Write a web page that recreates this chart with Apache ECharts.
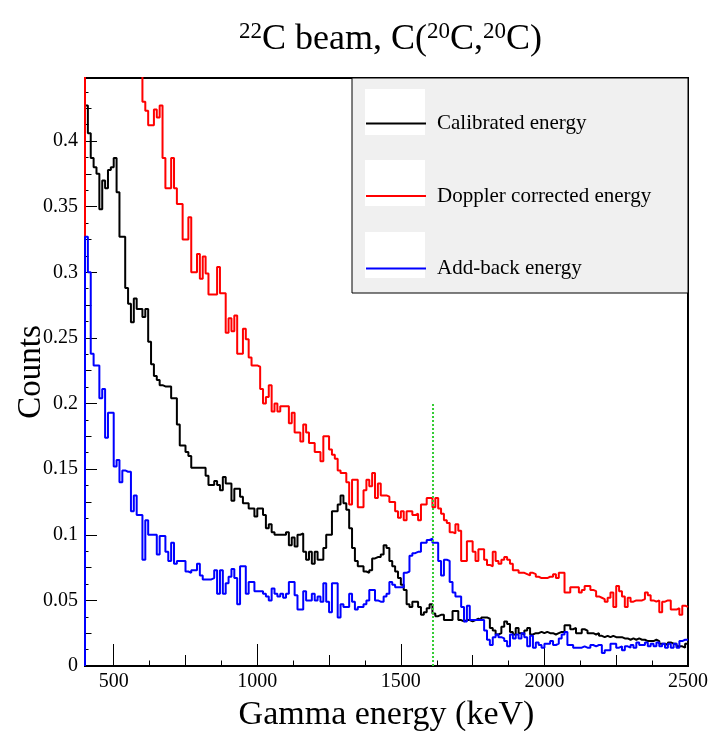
<!DOCTYPE html>
<html>
<head>
<meta charset="utf-8">
<script src="https://cdn.jsdelivr.net/npm/echarts@6/dist/echarts.min.js"></script>
<style>
  html, body { margin: 0; padding: 0; background: #fff; }
  #chart-container { width: 710px; height: 731px; }
</style>
</head>
<body>
<div id="chart-container"></div>
<script>
// histogram binning: 10 keV bins from 400 keV
var binStart = 400;
var binWidth = 10;

var calibrated = [
  0.427, 0.406, 0.387, 0.380, 0.375, 0.348, 0.370, 0.364, 0.378, 0.380,
  0.387, 0.361, 0.327, 0.327, 0.288, 0.276, 0.262, 0.280, 0.272, 0.272,
  0.266, 0.272, 0.247, 0.230, 0.221, 0.218, 0.214, 0.213, 0.213, 0.213,
  0.204, 0.204, 0.184, 0.168, 0.168, 0.163, 0.160, 0.151, 0.151, 0.151,
  0.151, 0.151, 0.145, 0.138, 0.138, 0.141, 0.138, 0.134, 0.144, 0.139,
  0.139, 0.126, 0.135, 0.135, 0.129, 0.124, 0.124, 0.120, 0.120, 0.114,
  0.120, 0.120, 0.115, 0.105, 0.108, 0.102, 0.100, 0.100, 0.100, 0.100,
  0.102, 0.092, 0.098, 0.091, 0.100, 0.101, 0.087, 0.081, 0.087, 0.078,
  0.087, 0.081, 0.081, 0.090, 0.100, 0.100, 0.118, 0.118, 0.123, 0.130,
  0.124, 0.119, 0.105, 0.090, 0.080, 0.076, 0.076, 0.072, 0.071, 0.073,
  0.082, 0.083, 0.083, 0.085, 0.092, 0.090, 0.080, 0.076, 0.072, 0.067,
  0.062, 0.058, 0.047, 0.045, 0.049, 0.049, 0.045, 0.039, 0.041, 0.044,
  0.047, 0.040, 0.038, 0.039, 0.039, 0.035, 0.035, 0.035, 0.042, 0.042,
  0.035, 0.034, 0.035, 0.035, 0.034, 0.035, 0.036, 0.035, 0.037, 0.037,
  0.036, 0.029, 0.027, 0.024, 0.025, 0.030, 0.034, 0.032, 0.026, 0.024,
  0.029, 0.025, 0.024, 0.027, 0.029, 0.024, 0.025, 0.025, 0.026, 0.025,
  0.026, 0.025, 0.025, 0.024, 0.025, 0.026, 0.026, 0.031, 0.031, 0.028,
  0.029, 0.025, 0.025, 0.028, 0.027, 0.025, 0.025, 0.024, 0.025, 0.023,
  0.022, 0.023, 0.022, 0.023, 0.022, 0.022, 0.022, 0.021, 0.021, 0.020,
  0.021, 0.020, 0.021, 0.020, 0.020, 0.019, 0.019, 0.019, 0.020, 0.019,
  0.017, 0.017, 0.016, 0.018, 0.017, 0.017, 0.015, 0.015, 0.014, 0.017
];

var doppler = [
  0.600, 0.580, 0.570, 0.560, 0.550, 0.540, 0.530, 0.520, 0.510, 0.500,
  0.500, 0.490, 0.490, 0.480, 0.480, 0.470, 0.470, 0.460, 0.460, 0.450,
  0.430, 0.423, 0.412, 0.412, 0.424, 0.418, 0.427, 0.387, 0.364, 0.364,
  0.387, 0.364, 0.352, 0.352, 0.325, 0.325, 0.342, 0.300, 0.300, 0.314,
  0.295, 0.312, 0.299, 0.283, 0.283, 0.283, 0.304, 0.284, 0.284, 0.254,
  0.265, 0.255, 0.267, 0.238, 0.238, 0.257, 0.249, 0.235, 0.229, 0.229,
  0.228, 0.211, 0.200, 0.205, 0.214, 0.194, 0.200, 0.194, 0.198, 0.198,
  0.198, 0.185, 0.193, 0.178, 0.178, 0.171, 0.184, 0.178, 0.170, 0.170,
  0.163, 0.163, 0.156, 0.175, 0.175, 0.165, 0.161, 0.158, 0.149, 0.147,
  0.147, 0.140, 0.123, 0.142, 0.142, 0.121, 0.121, 0.134, 0.142, 0.137,
  0.147, 0.128, 0.139, 0.130, 0.130, 0.129, 0.125, 0.125, 0.118, 0.113,
  0.118, 0.111, 0.118, 0.118, 0.115, 0.116, 0.111, 0.123, 0.123, 0.128,
  0.128, 0.121, 0.128, 0.120, 0.116, 0.111, 0.109, 0.102, 0.101, 0.108,
  0.103, 0.080, 0.080, 0.095, 0.095, 0.087, 0.080, 0.089, 0.089, 0.081,
  0.077, 0.076, 0.087, 0.080, 0.078, 0.081, 0.083, 0.081, 0.078, 0.073,
  0.073, 0.071, 0.071, 0.070, 0.069, 0.071, 0.070, 0.068, 0.067, 0.067,
  0.067, 0.068, 0.068, 0.070, 0.067, 0.071, 0.071, 0.056, 0.056, 0.060,
  0.060, 0.060, 0.056, 0.058, 0.061, 0.061, 0.058, 0.057, 0.053, 0.052,
  0.051, 0.049, 0.052, 0.056, 0.045, 0.061, 0.057, 0.053, 0.045, 0.052,
  0.049, 0.050, 0.050, 0.050, 0.051, 0.056, 0.054, 0.050, 0.049, 0.050,
  0.041, 0.049, 0.050, 0.050, 0.043, 0.043, 0.044, 0.039, 0.046, 0.045
];

var addBack = [
  0.327, 0.300, 0.238, 0.229, 0.229, 0.204, 0.211, 0.174, 0.193, 0.193,
  0.152, 0.157, 0.140, 0.149, 0.148, 0.148, 0.118, 0.130, 0.115, 0.115,
  0.081, 0.111, 0.100, 0.100, 0.100, 0.085, 0.099, 0.099, 0.087, 0.080,
  0.094, 0.078, 0.080, 0.080, 0.080, 0.072, 0.071, 0.073, 0.073, 0.078,
  0.069, 0.066, 0.066, 0.066, 0.067, 0.073, 0.055, 0.073, 0.055, 0.063,
  0.068, 0.074, 0.067, 0.047, 0.076, 0.076, 0.055, 0.064, 0.064, 0.057,
  0.057, 0.057, 0.055, 0.053, 0.050, 0.059, 0.055, 0.053, 0.055, 0.052,
  0.055, 0.064, 0.064, 0.054, 0.043, 0.043, 0.057, 0.050, 0.050, 0.055,
  0.050, 0.053, 0.049, 0.063, 0.049, 0.041, 0.063, 0.063, 0.037, 0.047,
  0.045, 0.045, 0.055, 0.049, 0.043, 0.045, 0.045, 0.047, 0.050, 0.058,
  0.058, 0.050, 0.049, 0.049, 0.053, 0.055, 0.064, 0.062, 0.060, 0.060,
  0.060, 0.071, 0.072, 0.084, 0.086, 0.087, 0.087, 0.094, 0.094, 0.096,
  0.097, 0.094, 0.094, 0.080, 0.069, 0.081, 0.080, 0.064, 0.056, 0.053,
  0.053, 0.045, 0.034, 0.046, 0.035, 0.035, 0.035, 0.035, 0.035, 0.027,
  0.020, 0.016, 0.022, 0.024, 0.022, 0.021, 0.019, 0.015, 0.024, 0.021,
  0.024, 0.021, 0.025, 0.022, 0.015, 0.023, 0.014, 0.018, 0.016, 0.014,
  0.017, 0.017, 0.019, 0.016, 0.017, 0.021, 0.024, 0.026, 0.016, 0.016,
  0.014, 0.014, 0.014, 0.015, 0.014, 0.014, 0.016, 0.015, 0.016, 0.016,
  0.010, 0.012, 0.012, 0.017, 0.017, 0.014, 0.015, 0.012, 0.015, 0.014,
  0.016, 0.014, 0.018, 0.016, 0.016, 0.018, 0.015, 0.017, 0.015, 0.018,
  0.015, 0.017, 0.014, 0.017, 0.014, 0.017, 0.014, 0.019, 0.020, 0.020
];

var seriesNames = ['Calibrated energy', 'Doppler corrected energy', 'Add-back energy'];
var seriesColors = ['#000000', '#ff0000', '#0000ff'];

// green marker line
var markerEnergy = 1612;
var markerTop = 0.2;

// axis ticks
var xLabelTicks = [500, 1000, 1500, 2000, 2500];
var xMidTicks = [750, 1250, 1750, 2250];
var xSmallTicks = [625, 875, 1125, 1375, 1625, 1875, 2125, 2375];
var yLabelTicks = [0, 0.05, 0.1, 0.15, 0.2, 0.25, 0.3, 0.35, 0.4];
var yMidTicks = [0.025, 0.075, 0.125, 0.175, 0.225, 0.275, 0.325, 0.375, 0.425];
var ySmallTicks = [0.0125, 0.0375, 0.0625, 0.0875, 0.1125, 0.1375, 0.1625, 0.1875,
  0.2125, 0.2375, 0.2625, 0.2875, 0.3125, 0.3375, 0.3625, 0.3875, 0.4125, 0.4375];

function toSteps(values) {
  var pts = [[binStart, 0]];
  for (var i = 0; i < values.length; i++) {
    pts.push([binStart + i * binWidth, values[i]]);
  }
  pts.push([binStart + values.length * binWidth, values[values.length - 1]]);
  return pts;
}

var font = 'Liberation Serif';

var dom = document.getElementById('chart-container');
var myChart = echarts.init(dom, null, { renderer: 'canvas' });

function tickAxis(vals, len, isX) {
  return {
    type: 'value',
    min: isX ? 400 : 0,
    max: isX ? 2500 : 0.448,
    position: isX ? 'bottom' : 'left',
    offset: 0,
    axisLine: { show: false },
    axisLabel: { show: false },
    splitLine: { show: false },
    axisTick: {
      show: true, inside: true, length: len, customValues: vals,
      lineStyle: { color: '#000', width: 1 }
    }
  };
}

var option = {
  animation: false,
  title: {
    text: '{sup|22}C beam, C({sup|20}C,{sup|20}C)',
    left: 234,
    top: 15,
    textStyle: {
      fontFamily: font, fontSize: 36, fontWeight: 'normal', color: '#000',
      rich: {
        sup: { fontFamily: font, fontSize: 23, verticalAlign: 'bottom', padding: [0, 0, 16, 0], color: '#000' }
      }
    }
  },
  grid: {
    left: 85, right: 22, top: 78, bottom: 65,
    containLabel: false,
    outerBoundsMode: 'none',
    show: true, borderColor: '#000', borderWidth: 2, backgroundColor: 'transparent'
  },
  legend: {
    orient: 'vertical',
    left: 365,
    top: 113,
    padding: 0,
    itemWidth: 60,
    itemHeight: 20,
    itemGap: 51.5,
    itemStyle: { opacity: 0 },
    textStyle: { fontFamily: font, fontSize: 21, color: '#000', lineHeight: 20, padding: [0, 0, 0, 6] },
    data: seriesNames,
    z: 10
  },
  graphic: [
    { type: 'rect', z: 5, shape: { x: 352, y: 78, width: 336, height: 215 },
      style: { fill: '#f0f0f0', stroke: '#000', lineWidth: 1 } },
    { type: 'rect', z: 6, shape: { x: 365, y: 89, width: 60, height: 46 }, style: { fill: '#fff' } },
    { type: 'rect', z: 6, shape: { x: 365, y: 160, width: 60, height: 46 }, style: { fill: '#fff' } },
    { type: 'rect', z: 6, shape: { x: 365, y: 232, width: 60, height: 46 }, style: { fill: '#fff' } }
  ],
  xAxis: [
    {
      type: 'value',
      min: 400,
      max: 2500,
      name: 'Gamma energy (keV)',
      nameLocation: 'middle',
      nameGap: 32,
      nameTextStyle: { fontFamily: font, fontSize: 34, color: '#000' },
      axisLine: { show: true, onZero: false, lineStyle: { color: '#000', width: 2 } },
      axisTick: { show: true, inside: true, length: 22, customValues: xLabelTicks, lineStyle: { color: '#000', width: 1 } },
      axisLabel: {
        customValues: xLabelTicks, fontFamily: font, fontSize: 20, color: '#000', margin: 6,
        formatter: function (v) { return String(v); }
      },
      splitLine: { show: false }
    },
    tickAxis(xMidTicks, 11, true),
    tickAxis(xSmallTicks, 5.5, true)
  ],
  yAxis: [
    {
      type: 'value',
      min: 0,
      max: 0.448,
      name: 'Counts',
      nameLocation: 'middle',
      nameGap: 37,
      nameMoveOverlap: false,
      nameTextStyle: { fontFamily: font, fontSize: 33, color: '#000' },
      axisLine: { show: true, onZero: false, lineStyle: { color: '#000', width: 2 } },
      axisTick: { show: true, inside: true, length: 12, customValues: yLabelTicks, lineStyle: { color: '#000', width: 1 } },
      axisLabel: { customValues: yLabelTicks, fontFamily: font, fontSize: 20, color: '#000', margin: 7 },
      splitLine: { show: false }
    },
    tickAxis(yMidTicks, 6.5, false),
    tickAxis(ySmallTicks, 3.5, false)
  ],
  series: [
    {
      name: seriesNames[0], type: 'line', step: 'end', symbol: 'none',
      data: toSteps(calibrated), color: seriesColors[0],
      lineStyle: { width: 2, color: seriesColors[0] }
    },
    {
      name: seriesNames[1], type: 'line', step: 'end', symbol: 'none',
      data: toSteps(doppler), color: seriesColors[1],
      lineStyle: { width: 2, color: seriesColors[1] }
    },
    {
      name: seriesNames[2], type: 'line', step: 'end', symbol: 'none',
      data: toSteps(addBack), color: seriesColors[2],
      lineStyle: { width: 2, color: seriesColors[2] }
    },
    {
      name: 'marker', type: 'line', symbol: 'none',
      data: [[markerEnergy, 0], [markerEnergy, markerTop]],
      lineStyle: { width: 2, color: '#33cc33', type: 'dotted' },
      z: 3
    }
  ]
};

myChart.setOption(option);
window.addEventListener('resize', myChart.resize);
</script>
</body>
</html>
